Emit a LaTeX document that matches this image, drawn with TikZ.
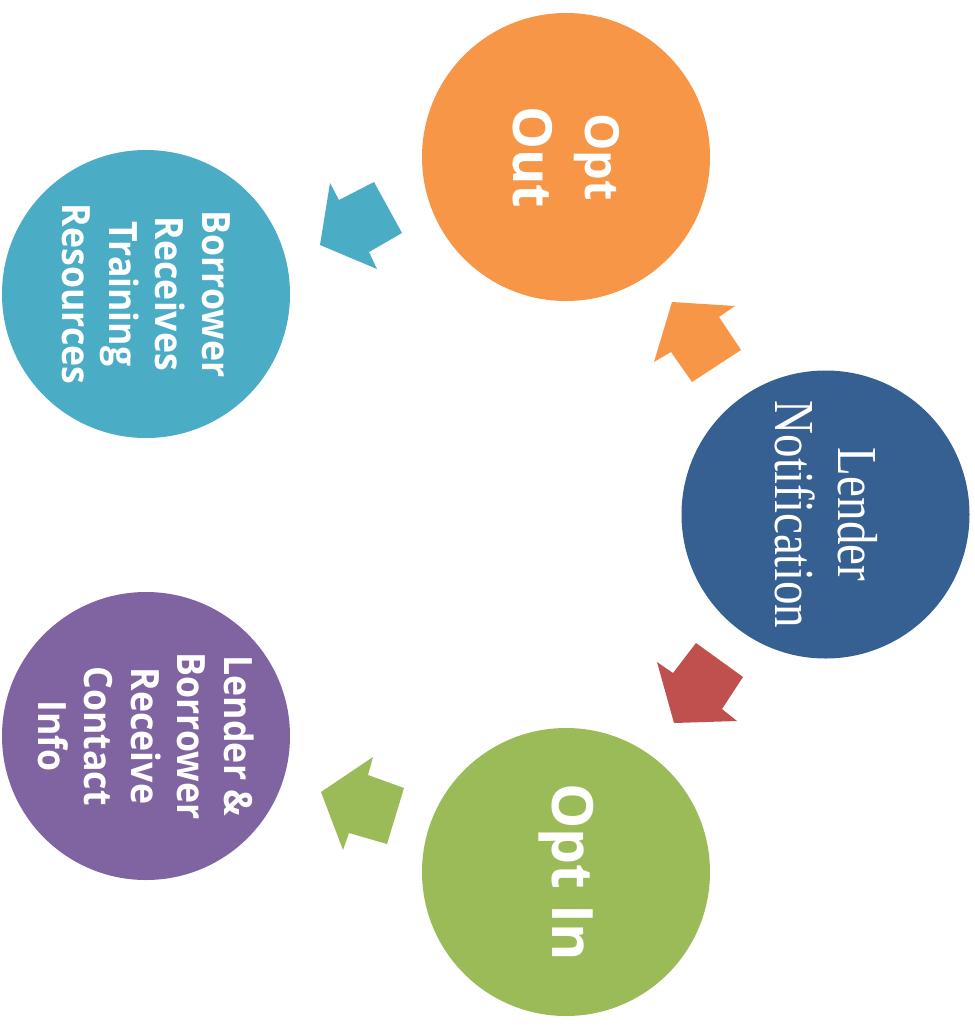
\documentclass[tikz,border=0pt]{standalone}
\usepackage{fontspec}
\usepackage{graphicx}
\newfontfamily\osans{Open Sans}
\newfontfamily\osansn{Open Sans}[FakeStretch=0.915]
\newfontfamily\lserif{Liberation Serif}
\definecolor{cOrange}{HTML}{F79646}
\definecolor{cBlue}{HTML}{4BACC6}
\definecolor{cNavy}{HTML}{366092}
\definecolor{cGreen}{HTML}{9BBB59}
\definecolor{cPurple}{HTML}{8064A2}
\definecolor{cRed}{HTML}{C0504D}
\begin{document}
\begin{tikzpicture}[x=1pt,y=-1pt,
  bubble/.style={circle, minimum size=288pt, inner sep=0pt, draw=none},
  label/.style={text=white, rotate=-90, align=center, inner sep=0pt},
  sanslbl/.style={label, font=\osansn\bfseries\fontsize{39}{46.5}\selectfont},
  blockarrow/.style={draw=none}
  ]
\useasboundingbox (0,0) rectangle (975,1026);

% circles
\node[bubble, fill=cOrange] (optout) at (566,157) {};
\node[bubble, fill=cBlue] (borrower) at (146,294) {};
\node[bubble, fill=cNavy] (lender) at (825.5,514.5) {};
\node[bubble, fill=cGreen] (optin) at (566,872) {};
\node[bubble, fill=cPurple] (contact) at (146,736) {};

% labels
\node[label, font=\osans\bfseries\fontsize{54}{72}\selectfont] (tOptOut) at (optout.center)
  {{\fontsize{47}{56}\selectfont Opt}\\Out};
\node[sanslbl] (tBorrower) at (borrower.center) {Borrower\\Receives\\Training\\Resources};
\node[sanslbl] (tContact) at (contact.center) {Lender \&\\Borrower\\Receive\\Contact\\Info};
\node[label, font=\osans\bfseries\fontsize{57}{68}\selectfont] (tOptIn) at (optin.center) {Opt In};
\node[label, font=\lserif\fontsize{47}{52}\selectfont] (tLender) at ([xshift=-6pt]lender.center)
  {\scalebox{1}[1.2]{\begin{tabular}{@{}c@{}}Lender\\Notification\end{tabular}}};

% block arrows
\fill[cBlue, blockarrow] (320,245) -- (330,183) -- (339,200) -- (374,182) -- (402,233) -- (369,252) -- (377,269) -- cycle;
\fill[cOrange, blockarrow] (672,302) -- (735,306) -- (719,317) -- (741,350) -- (692,382) -- (671,352) -- (654,362) -- cycle;
\fill[cRed, blockarrow] (696,643) -- (743,677) -- (722,709) -- (737,721) -- (674,723) -- (657,662) -- (673,673) -- cycle;
\fill[cGreen, blockarrow] (373,757) -- (368,775) -- (404,788) -- (387,844) -- (349,833) -- (343,850) -- (321,792) -- cycle;
\end{tikzpicture}
\end{document}
